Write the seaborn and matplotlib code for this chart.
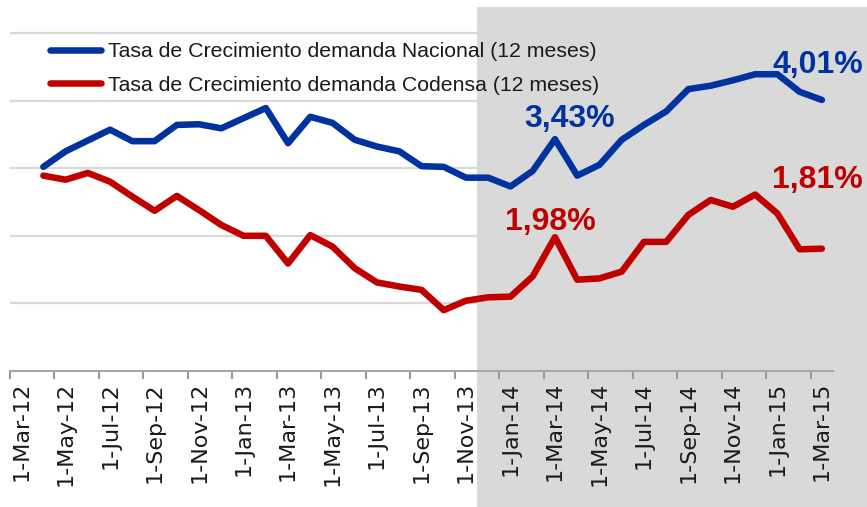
import matplotlib
matplotlib.use("Agg")
import matplotlib.pyplot as plt
import seaborn as sns
import pandas as pd
import numpy as np
from matplotlib.patches import Rectangle

# ---------------- data ----------------
months = pd.date_range("2012-04-01", "2015-03-01", freq="MS")
nacional = [3.02, 3.25, 3.41, 3.57, 3.40, 3.40, 3.64, 3.65, 3.59, 3.74, 3.89, 3.37,
            3.76, 3.67, 3.42, 3.32, 3.25, 3.03, 3.02, 2.86, 2.86, 2.73, 2.96, 3.43,
            2.89, 3.05, 3.42, 3.64, 3.84, 4.17, 4.22, 4.30, 4.39, 4.39, 4.13, 4.01]
codensa = [2.89, 2.83, 2.93, 2.80, 2.58, 2.37, 2.59, 2.38, 2.16, 2.00, 2.00, 1.59,
           2.01, 1.84, 1.52, 1.31, 1.25, 1.20, 0.90, 1.04, 1.09, 1.10, 1.40, 1.98,
           1.35, 1.37, 1.47, 1.91, 1.91, 2.31, 2.53, 2.43, 2.61, 2.33, 1.80, 1.81]
tick_labels = ["1-Mar-12", "1-May-12", "1-Jul-12", "1-Sep-12", "1-Nov-12",
               "1-Jan-13", "1-Mar-13", "1-May-13", "1-Jul-13", "1-Sep-13",
               "1-Nov-13", "1-Jan-14", "1-Mar-14", "1-May-14", "1-Jul-14",
               "1-Sep-14", "1-Nov-14", "1-Jan-15", "1-Mar-15"]
series_names = ["Tasa de Crecimiento demanda Nacional (12 meses)",
                "Tasa de Crecimiento demanda Codensa (12 meses)"]

BLUE = "#0033A0"
RED = "#C00000"

sns.set_theme(style="white")
plt.rcParams["font.family"] = ["Liberation Sans", "DejaVu Sans"]

n = len(months)
df = pd.DataFrame({
    "idx": list(range(n)) * 2,
    "valor": nacional + codensa,
    "serie": [series_names[0]] * n + [series_names[1]] * n,
})

W, H = 867, 507
fig = plt.figure(figsize=(W / 100, H / 100), dpi=100)
ax = fig.add_axes([10 / W, (H - 371) / H, 823 / W, 365 / H])
ax.set_axisbelow("line")

sns.lineplot(data=df, x="idx", y="valor", hue="serie", hue_order=series_names,
             palette=[BLUE, RED], linewidth=4.7, ax=ax, legend=False, zorder=3,
             solid_capstyle="round", solid_joinstyle="round")
data_lines = list(ax.lines[:2])

# gridlines
for v in [1, 2, 3, 4, 5]:
    ax.axhline(v, color="#D9D9D9", lw=1.6, zorder=0.3)

# shaded region (highlight 2014-2015)
rect = Rectangle((477 / W, 0), (W - 477) / W, 500 / H, transform=fig.transFigure,
                 facecolor="#D9D9D9", edgecolor="none", zorder=1)
ax.add_artist(rect)
rect.set_clip_on(False)

ax.set_xlim(-1.5, n - 0.5)
ax.set_ylim(0, 365 / 67.6)

ax.set_xticks(np.arange(-1, n, 2))
ax.set_xticklabels(tick_labels, rotation=90, fontsize=16, family="DejaVu Sans",
                   color="#1a1a1a")
ax.set_xticks(np.arange(-1.5, n - 1, 2), minor=True)
ax.tick_params(axis="x", which="both", bottom=True)
ax.tick_params(axis="x", which="major", length=0, pad=8)
ax.tick_params(axis="x", which="minor", length=6, width=1.5, color="#999999")
ax.set_yticks([])
ax.set_xlabel("")
ax.set_ylabel("")
for s in ["left", "right", "top"]:
    ax.spines[s].set_visible(False)
ax.spines["bottom"].set_color("#A6A6A6")
ax.spines["bottom"].set_linewidth(1.5)

# value labels
ann = [
    (nacional, 23, BLUE, 10.4, 8.9),
    (codensa, 23, RED, -3.3, 4.8),
    (nacional, n - 1, BLUE, -3.1, 19.1),
    (codensa, n - 1, RED, -3.6, 43.9),
]
for series, i, col, dx, dy in ann:
    v = series[i]
    ax.annotate(f"{v:.2f}".replace(".", ",") + "%", xy=(i, v), xytext=(dx, dy),
                textcoords="offset points", ha="center", va="baseline",
                fontsize=23, fontweight="bold", color=col, zorder=4)

leg = ax.legend(data_lines, series_names, loc="upper left",
                bbox_to_anchor=(50 / W, 1 - 42 / H), bbox_transform=fig.transFigure,
                frameon=False, fontsize=15.35, handlelength=2.4, handletextpad=0.3,
                labelspacing=0.7, borderpad=0, borderaxespad=0)
for t in leg.get_texts():
    t.set_color("#1a1a1a")
leg.set_zorder(5)

fig.savefig("out.png", dpi=100)
